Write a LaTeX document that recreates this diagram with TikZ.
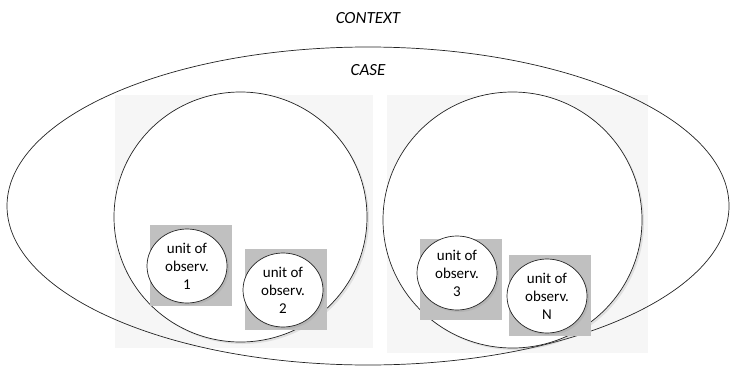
\documentclass[tikz,border=0pt]{standalone}
\usepackage{fontspec}
\setmainfont{Carlito}
\usepackage{tikz}
\usetikzlibrary{shapes.geometric, shadows, positioning}
\definecolor{panelgray}{RGB}{246, 246, 246}
\definecolor{boxgray}{RGB}{192, 192, 192}
\definecolor{linegray}{RGB}{35, 35, 35}
\tikzstyle{panel} = [
    rectangle,
    draw=none,
    fill=panelgray,
    inner sep=0pt
]
\tikzstyle{casecircle} = [
    ellipse,
    draw=linegray,
    line width=0.7pt,
    fill=white,
    inner sep=0pt,
    drop shadow={opacity=0.18, shadow xshift=2pt, shadow yshift=-2pt}
]
\tikzstyle{unitbox} = [
    rectangle,
    draw=none,
    fill=boxgray,
    inner sep=0pt,
    minimum width=82pt,
    minimum height=81pt
]
\tikzstyle{unit} = [
    ellipse,
    draw=linegray,
    line width=0.7pt,
    fill=white,
    inner sep=0pt,
    minimum width=80pt,
    minimum height=74pt,
    align=center,
    font=\fontsize{15}{18}\selectfont,
    drop shadow={opacity=0.18, shadow xshift=2pt, shadow yshift=-2pt}
]
\tikzstyle{label} = [
    font=\fontsize{17}{20}\selectfont\itshape
]

\begin{document}
\begin{tikzpicture}[x=1pt, y=-1pt]
        \useasboundingbox (0, 0) rectangle (736, 369);

        % Background panels
        \node[panel, minimum width=258pt, minimum height=253pt] (panelA) at (244, 221.5) {};
        \node[panel, minimum width=261pt, minimum height=258pt] (panelB) at (517, 224) {};

        % Context
        \node[ellipse, draw=linegray, line width=0.7pt, inner sep=0pt, minimum width=722pt, minimum height=318pt] (context) at (368, 206) {};
        \node[label] (contextlabel) at (368, 18) {CONTEXT};
        \node[label] (caselabel) at (368, 70) {CASE};

        % Cases
        \node[casecircle, minimum width=253pt, minimum height=250pt] (caseA) at (240.5, 217) {};
        \node[casecircle, minimum width=259pt, minimum height=256pt] (caseB) at (512.5, 220) {};

        % Units of observation
        \node[unitbox] (boxA) at (190.5, 265) {};
        \node[unitbox] (boxB) at (286, 289.5) {};
        \node[unitbox] (boxC) at (461, 279) {};
        \node[unitbox] (boxD) at (549.5, 295.5) {};

        \node[unit] (unitA) at (187, 266) {unit of\\observ.\\1};
        \node[unit] (unitB) at (283, 290) {unit of\\observ.\\2};
        \node[unit] (unitC) at (457, 273) {unit of\\observ.\\3};
        \node[unit] (unitD) at (547, 296) {unit of\\observ.\\N};
    \end{tikzpicture}
\end{document}
